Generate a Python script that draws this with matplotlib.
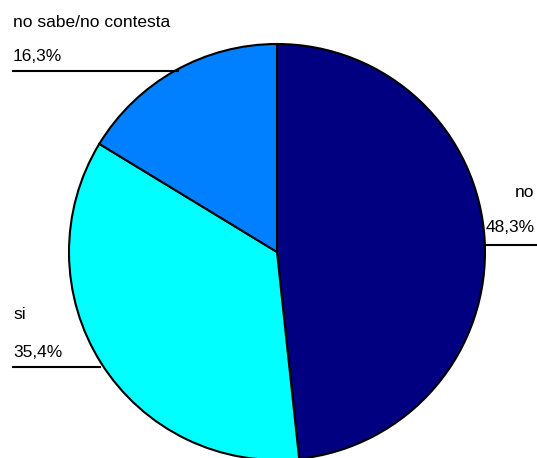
import matplotlib
matplotlib.use("Agg")
import matplotlib.pyplot as plt

labels = ["no", "si", "no sabe/no contesta"]
values = [48.3, 35.4, 16.3]
colors = ["#000080", "#00FFFF", "#0080FF"]

W, H = 537, 458
fig = plt.figure(figsize=(W / 100, H / 100), dpi=100)
ax = fig.add_axes([0, 0, 1, 1])
ax.set_xlim(0, W)
ax.set_ylim(0, H)
ax.set_aspect("equal")
ax.axis("off")

# pixel coords, y measured from the top
cx, cy, r = 277, 252, 208

ax.pie(values, colors=colors, startangle=90, counterclock=False,
       center=(cx, H - cy), radius=r,
       wedgeprops=dict(edgecolor="black", linewidth=1.5))
ax.set_xlim(0, W)
ax.set_ylim(0, H)

font = dict(family=["Liberation Sans", "DejaVu Sans"], fontsize=12.5, va="baseline")
pct = lambda v: f"{v:.1f}".replace(".", ",") + "%"

# no sabe/no contesta (top left)
ax.text(13, H - 27, labels[2], ha="left", **font)
ax.text(13, H - 61, pct(values[2]), ha="left", **font)
ax.plot([13, 178], [H - 71, H - 71], color="black", lw=1.5)

# no (right)
ax.text(534, H - 197, labels[0], ha="right", **font)
ax.text(535, H - 232, pct(values[0]), ha="right", **font)
ax.plot([483, 537], [H - 245, H - 245], color="black", lw=1.5)

# si (left)
ax.text(13, H - 319, labels[1], ha="left", **font)
ax.text(13, H - 357, pct(values[1]), ha="left", **font)
ax.plot([13, 100], [H - 367, H - 367], color="black", lw=1.5)

fig.savefig("out.png", dpi=100)
